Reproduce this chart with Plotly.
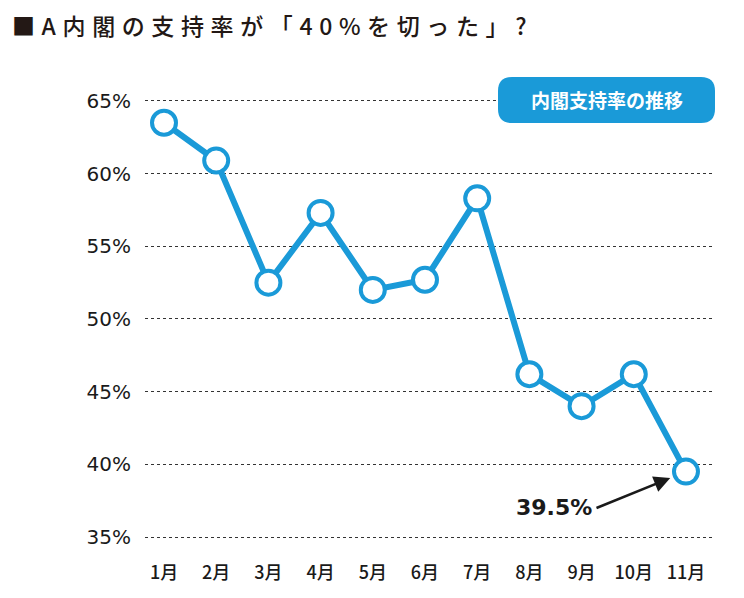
import plotly.graph_objects as go

months = ["1月", "2月", "3月", "4月", "5月", "6月", "7月", "8月", "9月", "10月", "11月"]
support = [63.5, 60.9, 52.5, 57.3, 52.0, 52.7, 58.3, 46.2, 44.0, 46.2, 39.5]
y_ticks = [35, 40, 45, 50, 55, 60, 65]
y_tick_labels = [f"{v}%" for v in y_ticks]
title_text = "A内閣の支持率が「40%を切った」?"
badge_text = "内閣支持率の推移"

BLUE = "#1a9ad8"
OFF = 8  # page body margin
W, H = 744 - OFF, 598 - OFF
ML, MR, MT, MB = 145 - OFF, 29, 70 - OFF, 53
PW, PH = W - ML - MR, H - MT - MB

def px(x):
    return (x - OFF - ML) / PW

def py(y):
    return (H - MB - (y - OFF)) / PH

fig = go.Figure()
fig.add_trace(go.Scatter(
    x=list(range(len(months))), y=support, mode="lines+markers",
    line=dict(color=BLUE, width=6),
    marker=dict(size=24, color="white", line=dict(color=BLUE, width=4)),
    cliponaxis=False, hoverinfo="skip", showlegend=False,
))

# rounded badge (screen pixel box)
x0, x1, y0, y1, r = 498, 715, 77, 123, 14
rx, ry = r / PW, r / PH
X0, X1, Y0, Y1 = px(x0), px(x1), py(y1), py(y0)
path = (f"M {X0+rx},{Y0} L {X1-rx},{Y0} Q {X1},{Y0} {X1},{Y0+ry} "
        f"L {X1},{Y1-ry} Q {X1},{Y1} {X1-rx},{Y1} L {X0+rx},{Y1} "
        f"Q {X0},{Y1} {X0},{Y1-ry} L {X0},{Y0+ry} Q {X0},{Y0} {X0+rx},{Y0} Z")
fig.add_shape(type="path", path=path, xref="paper", yref="paper",
              fillcolor=BLUE, line=dict(width=0), layer="above")
fig.add_annotation(x=(X0 + X1) / 2, y=(Y0 + Y1) / 2, xref="paper", yref="paper",
                   xanchor="center", yanchor="middle",
                   text=badge_text, showarrow=False,
                   font=dict(family="Noto Sans CJK JP", size=19, color="white", weight="bold"))

# arrow to last point
last_x, last_y = len(months) - 1, support[-1]
fig.add_annotation(x=last_x, y=last_y, ax=-91, ay=37, text="", showarrow=True,
                   arrowhead=2, arrowsize=1.3, arrowwidth=2.5, arrowcolor="#1a1a1a",
                   standoff=17)
fig.add_annotation(x=last_x, y=last_y, text=f"{last_y}%", showarrow=False,
                   xanchor="right", yanchor="middle", xshift=-92, yshift=-36,
                   font=dict(family="DejaVu Sans", size=22, color="#1a1a1a", weight="bold"))

# title
spaced = " \u200a".join(title_text)
fig.add_annotation(x=px(10), y=py(25), xref="paper", yref="paper",
                   text="■ \u200a" + spaced, showarrow=False,
                   xanchor="left", yanchor="middle",
                   font=dict(family="Noto Sans CJK JP", size=23, color="#231815", weight=500))

fig.update_layout(
    width=W, height=H, margin=dict(l=ML, r=MR, t=MT, b=MB),
    paper_bgcolor="white", plot_bgcolor="white",
    xaxis=dict(tickmode="array", tickvals=list(range(len(months))), ticktext=months,
               range=[-0.364, 10.556], showgrid=False, zeroline=False, showline=False,
               ticks="", ticklabelstandoff=15,
               tickfont=dict(family="Noto Sans CJK JP", size=18, color="#1a1a1a", weight=500)),
    yaxis=dict(tickmode="array", tickvals=y_ticks, ticktext=y_tick_labels,
               range=[34.45, 67.13], showgrid=True, gridcolor="#333333", griddash="dot",
               gridwidth=1, zeroline=False, showline=False, ticks="",
               ticklabelstandoff=13,
               tickfont=dict(family="DejaVu Sans", size=20, color="#1a1a1a")),
)
fig.write_html("out.html")
